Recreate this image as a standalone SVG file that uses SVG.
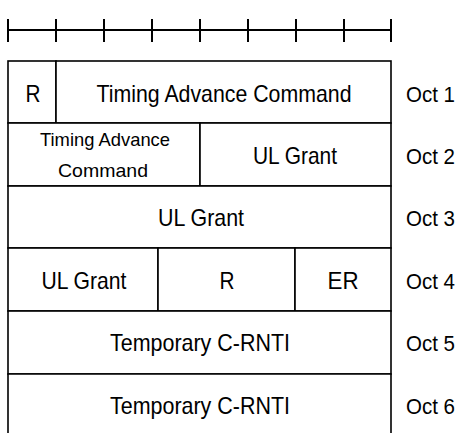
<svg xmlns="http://www.w3.org/2000/svg" width="460" height="433" viewBox="0 0 460 433">
<style>
.c{fill:#fff;stroke:#000;stroke-width:1.6}
.r{stroke:#000;stroke-width:2;fill:none}
text{font-family:"Liberation Sans",Arial,sans-serif;font-size:24px;fill:#000;text-anchor:middle}
.s{font-size:19px}
.o{text-anchor:start;font-size:22.5px}
</style>
<g id="ruler" class="r">
<line x1="8" y1="30" x2="392" y2="30"/>
<line x1="8" y1="19" x2="8" y2="42"/>
<line x1="56" y1="19" x2="56" y2="42"/>
<line x1="104" y1="19" x2="104" y2="42"/>
<line x1="152" y1="19" x2="152" y2="42"/>
<line x1="200" y1="19" x2="200" y2="42"/>
<line x1="248" y1="19" x2="248" y2="42"/>
<line x1="296" y1="19" x2="296" y2="42"/>
<line x1="344" y1="19" x2="344" y2="42"/>
<line x1="391" y1="19" x2="391" y2="42"/>
</g>
<g id="oct1-r"><rect class="c" x="8" y="61" width="48" height="62"/><text x="33" y="102" textLength="15" lengthAdjust="spacingAndGlyphs">R</text></g>
<g id="oct1-tac"><rect class="c" x="56" y="61" width="335" height="62"/><text x="224" y="102" textLength="255" lengthAdjust="spacingAndGlyphs">Timing Advance Command</text></g>
<g id="oct2-tac"><rect class="c" x="8" y="123" width="192" height="63"/><text class="s" x="105" y="146" textLength="130" lengthAdjust="spacingAndGlyphs">Timing Advance</text><text class="s" x="103" y="177" textLength="90" lengthAdjust="spacingAndGlyphs">Command</text></g>
<g id="oct2-ul"><rect class="c" x="200" y="123" width="191" height="63"/><text x="295" y="164" textLength="84" lengthAdjust="spacingAndGlyphs">UL Grant</text></g>
<g id="oct3-ul"><rect class="c" x="8" y="186" width="383" height="62"/><text x="201" y="226" textLength="86" lengthAdjust="spacingAndGlyphs">UL Grant</text></g>
<g id="oct4-ul"><rect class="c" x="8" y="248" width="150" height="63"/><text x="84" y="289" textLength="85" lengthAdjust="spacingAndGlyphs">UL Grant</text></g>
<g id="oct4-r"><rect class="c" x="158" y="248" width="137" height="63"/><text x="227" y="289" textLength="15" lengthAdjust="spacingAndGlyphs">R</text></g>
<g id="oct4-er"><rect class="c" x="295" y="248" width="96" height="63"/><text x="343" y="289" textLength="31" lengthAdjust="spacingAndGlyphs">ER</text></g>
<g id="oct5-crnti"><rect class="c" x="8" y="311" width="383" height="63"/><text x="200" y="351" textLength="180" lengthAdjust="spacingAndGlyphs">Temporary C-RNTI</text></g>
<g id="oct6-crnti"><path class="c" d="M8 440 V374 H391 V440"/><text x="200" y="414" textLength="180" lengthAdjust="spacingAndGlyphs">Temporary C-RNTI</text></g>
<g id="labels">
<text class="o" x="406" y="102" textLength="49" lengthAdjust="spacingAndGlyphs">Oct 1</text>
<text class="o" x="406" y="164" textLength="49" lengthAdjust="spacingAndGlyphs">Oct 2</text>
<text class="o" x="406" y="226" textLength="49" lengthAdjust="spacingAndGlyphs">Oct 3</text>
<text class="o" x="406" y="289" textLength="49" lengthAdjust="spacingAndGlyphs">Oct 4</text>
<text class="o" x="406" y="351" textLength="49" lengthAdjust="spacingAndGlyphs">Oct 5</text>
<text class="o" x="406" y="414" textLength="49" lengthAdjust="spacingAndGlyphs">Oct 6</text>
</g>
</svg>
